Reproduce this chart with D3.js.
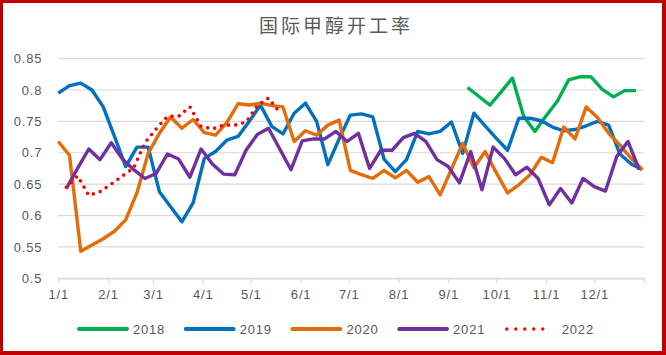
<!DOCTYPE html>
<html>
<head>
<meta charset="utf-8">
<script src="https://cdn.jsdelivr.net/npm/d3@7/dist/d3.min.js"></script>
<style>
  html, body { margin: 0; padding: 0; background: #fff; }
  svg { display: block; }
</style>
</head>
<body>
<svg id="chart" width="666" height="355"></svg>
<script>
// ---- data ----
const title = "国际甲醇开工率";
const monthLabels = ["1/1","2/1","3/1","4/1","5/1","6/1","7/1","8/1","9/1","10/1","11/1","12/1"];
const yTickValues = [0.5, 0.55, 0.6, 0.65, 0.7, 0.75, 0.8, 0.85];
const yTickLabels = ["0.5","0.55","0.6","0.65","0.7","0.75","0.8","0.85"];
const years = ["2018","2019","2020","2021","2022"];
const startDates = ["09-13","01-01","01-01","01-06","01-06"]; // first weekly reading (month-day)
const v2018 = [0.804,0.790,0.776,0.797,0.819,0.758,0.734,0.759,0.782,0.816,0.821,0.821,0.801,0.789,0.799,0.799];
const v2019 = [0.795,0.807,0.811,0.800,0.773,0.726,0.678,0.709,0.709,0.638,
               0.614,0.590,0.620,0.691,0.702,0.720,0.726,0.750,0.776,0.742,
               0.730,0.763,0.779,0.750,0.681,0.722,0.760,0.762,0.757,0.690,
               0.670,0.689,0.734,0.730,0.734,0.749,0.699,0.763,0.743,0.723,
               0.704,0.755,0.755,0.751,0.741,0.735,0.737,0.743,0.750,0.744,
               0.698,0.682,0.673];
const v2020 = [0.718,0.696,0.543,0.553,0.563,0.575,0.593,0.636,0.699,0.731,
               0.757,0.739,0.753,0.732,0.728,0.748,0.778,0.776,0.779,0.775,
               0.773,0.718,0.735,0.728,0.744,0.752,0.672,0.665,0.659,0.672,
               0.660,0.672,0.653,0.662,0.633,0.674,0.715,0.676,0.702,0.668,
               0.636,0.649,0.665,0.693,0.684,0.741,0.722,0.773,0.756,0.731,
               0.712,0.691,0.673];
const v2021 = [0.643,0.675,0.706,0.689,0.716,0.690,0.673,0.659,0.667,0.698,
               0.690,0.661,0.706,0.682,0.666,0.665,0.704,0.729,0.739,0.706,
               0.673,0.719,0.722,0.722,0.734,0.718,0.731,0.675,0.704,0.704,
               0.724,0.731,0.718,0.689,0.678,0.652,0.702,0.641,0.709,0.691,
               0.665,0.677,0.659,0.617,0.643,0.620,0.659,0.646,0.639,0.694,
               0.718,0.673];
const v2022 = [0.645,0.663,0.632,0.638,0.650,0.663,0.676,0.716,0.738,0.758,
               0.758,0.773,0.742,0.738,0.744,0.744,0.749,0.775,0.787,0.764];
const seriesValues = [v2018, v2019, v2020, v2021, v2022];
const colors = ["#00b050","#0070c0","#e46c0a","#7030a0","#ff0000"];

// ---- layout ----
const svg = d3.select("#chart");
const W = 666, H = 355;
const plot = {left: 58.3, right: 644, top: 58.6, bottom: 278.3};
const baseYear = 2021;
const parse = d3.timeParse("%Y-%m-%d");

// frame
svg.append("rect").attr("x",0).attr("y",0).attr("width",W).attr("height",H).attr("fill","#c00000");
svg.append("rect").attr("x",3).attr("y",3).attr("width",659).attr("height",348).attr("fill","#ffffff");

const x = d3.scaleTime()
  .domain([new Date(baseYear,0,1), new Date(baseYear+1,0,1)])
  .range([plot.left, plot.right]);
const y = d3.scaleLinear().domain([0.5, 0.85]).range([plot.bottom, plot.top]);

// title
svg.append("text")
  .attr("x", 336).attr("y", 33)
  .attr("text-anchor","middle")
  .attr("font-family","'Noto Sans CJK SC', sans-serif")
  .attr("font-size", 19)
  .attr("letter-spacing", "3px")
  .attr("fill","#595959")
  .text(title);

// gridlines
svg.append("g").selectAll("line")
  .data(yTickValues)
  .join("line")
  .attr("x1", plot.left).attr("x2", plot.right)
  .attr("y1", d => y(d)).attr("y2", d => y(d))
  .attr("stroke", "#d9d9d9").attr("stroke-width", 1.2);

// y axis labels
const yAxis = d3.axisLeft(y).tickValues(yTickValues)
  .tickFormat((d,i) => yTickLabels[i]).tickSize(0).tickPadding(16);
const gy = svg.append("g").attr("transform", `translate(${plot.left},0)`).call(yAxis);
gy.select(".domain").remove();
gy.selectAll("text")
  .attr("font-family","'Liberation Sans', Arial, sans-serif")
  .attr("font-size", 13).attr("letter-spacing","0.8px")
  .attr("fill","#595959");

// x axis
const monthDates = monthLabels.map((m,i) => new Date(baseYear, i, 1));
const xAxis = d3.axisBottom(x)
  .tickValues(monthDates.concat([new Date(baseYear+1,0,1)]))
  .tickFormat((d,i) => i < monthLabels.length ? monthLabels[i] : "")
  .tickSize(5).tickSizeOuter(0).tickPadding(6);
const gx = svg.append("g").attr("transform", `translate(0,${plot.bottom})`).call(xAxis);
gx.select(".domain").attr("stroke","#d9d9d9").attr("stroke-width",1.2);
gx.selectAll(".tick line").attr("stroke","#d9d9d9").attr("stroke-width",1.2);
gx.selectAll("text")
  .attr("font-family","'Liberation Sans', Arial, sans-serif")
  .attr("font-size", 13).attr("letter-spacing","0.8px")
  .attr("fill","#595959");

// series
const line = d3.line().x(d => x(d.date)).y(d => y(d.value));
years.forEach((yr, si) => {
  const start = parse(baseYear + "-" + startDates[si]);
  const pts = seriesValues[si].map((v, i) => ({date: d3.timeDay.offset(start, 7*i), value: v}));
  const p = svg.append("path").datum(pts)
    .attr("fill","none")
    .attr("stroke", colors[si])
    .attr("stroke-linejoin","round")
    .attr("d", line);
  if (yr === "2022") {
    p.attr("stroke-width", 3.6).attr("stroke-linecap","round").attr("stroke-dasharray","0,7.2");
  } else {
    p.attr("stroke-width", 3.4).attr("stroke-linecap","butt");
  }
});

// legend
const lg = svg.append("g");
years.forEach((yr, i) => {
  const x1 = 79 + 106.7*i;
  const l = lg.append("line")
    .attr("x1", x1).attr("x2", x1 + 48)
    .attr("y1", 329).attr("y2", 329)
    .attr("stroke", colors[i]).attr("stroke-linecap","round");
  if (yr === "2022") {
    l.attr("x1", x1 + 1).attr("x2", x1 + 46).attr("stroke-width", 3.4).attr("stroke-dasharray","0,9");
  } else {
    l.attr("stroke-width", 3.8);
  }
  lg.append("text")
    .attr("x", x1 + 54 + (yr === "2022" ? 2 : 0)).attr("y", 329)
    .attr("dy","0.36em")
    .attr("font-family","'Liberation Sans', Arial, sans-serif")
    .attr("font-size", 13).attr("letter-spacing","0.8px")
    .attr("fill","#595959")
    .text(yr);
});
</script>
</body>
</html>
